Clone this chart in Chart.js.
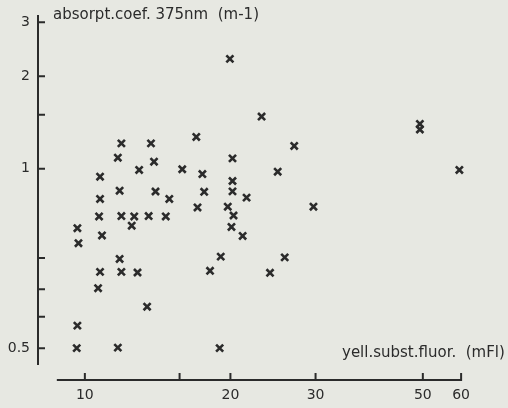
<!DOCTYPE html>
<html>
<head>
<meta charset="utf-8">
<script src="https://cdn.jsdelivr.net/npm/chart.js@4"></script>
<style>
    html, body { margin: 0; padding: 0; background: #e7e8e2; }
    #wrap { width: 508px; height: 408px; position: relative; }
</style>
</head>
<body>
<div id="wrap"><canvas id="scatterChart"></canvas></div>
<script>
// yellow substance fluorescence (mFl)
const fluor = [
    11.9, 13.7, 17.0, 11.7, 13.9, 20.2, 10.75, 12.95, 15.9, 17.5,
    20.2, 11.8, 14.0, 17.65, 20.2, 21.6, 10.75, 14.95, 17.1, 19.75,
    10.7, 11.9, 12.65, 13.55, 14.7, 20.3, 12.5, 20.1, 9.65, 10.85,
    21.2, 9.7, 11.8, 19.1, 10.75, 11.9, 12.85, 18.15, 10.65, 13.45,
    9.65, 9.62, 11.7, 19.0, 19.95, 23.2, 27.1, 25.05, 29.7, 25.9,
    24.15, 49.3, 49.3, 59.5
];
// absorption coefficient at 375 nm (m-1)
const absorp = [
    1.21, 1.21, 1.27, 1.087, 1.055, 1.082, 0.943, 0.992, 0.997, 0.962,
    0.913, 0.849, 0.844, 0.842, 0.845, 0.806, 0.798, 0.798, 0.749, 0.753,
    0.700, 0.702, 0.700, 0.702, 0.700, 0.705, 0.653, 0.647, 0.641, 0.607,
    0.605, 0.573, 0.509, 0.518, 0.462, 0.462, 0.460, 0.466, 0.409, 0.356,
    0.309, 0.261, 0.262, 0.261, 2.28, 1.48, 1.187, 0.979, 0.753, 0.515,
    0.459, 1.40, 1.343, 0.992
];

const xTicks = [10, 15.7, 20, 30, 50, 60];
const xTickLabels = ['10', '', '20', '30', '50', '60'];
const yTicks = [3, 2, 1.5, 1, 0.513, 0.406, 0.33, 0.261];
const yTickLabels = ['3', '2', '', '1', '', '', '', '0.5'];

const ink = '#2b2b2b';
const font = "'DejaVu Sans', sans-serif";

const points = fluor.map((x, i) => ({ x: x, y: absorp[i] }));

// axis lines and inward tick marks, drawn like the old plotter
const axesPlugin = {
    id: 'plotterAxes',
    afterDraw(chart) {
        const ctx = chart.ctx;
        const area = chart.chartArea;
        const xs = chart.scales.x;
        const ys = chart.scales.y;
        ctx.save();
        ctx.strokeStyle = ink;
        ctx.lineWidth = 2;
        ctx.lineCap = 'butt';

        // y axis
        ctx.beginPath();
        ctx.moveTo(area.left, area.top - 2);
        ctx.lineTo(area.left, area.bottom);
        yTicks.forEach(v => {
            const py = ys.getPixelForValue(v);
            ctx.moveTo(area.left, py);
            ctx.lineTo(area.left + 7, py);
        });
        ctx.stroke();

        // x axis, detached below the plot
        const ay = area.bottom + 15;
        ctx.beginPath();
        ctx.moveTo(xs.getPixelForValue(8.75), ay);
        ctx.lineTo(xs.getPixelForValue(60) + 1, ay);
        xTicks.forEach(v => {
            const px = xs.getPixelForValue(v);
            ctx.moveTo(px, ay);
            ctx.lineTo(px, ay - 7);
        });
        ctx.stroke();

        ctx.fillStyle = ink;
        ctx.font = '15px ' + font;
        ctx.textBaseline = 'middle';
        ctx.textAlign = 'left';
        ctx.fillText('absorpt.coef. 375nm  (m-1)', 53, 15);
        ctx.fillText('yell.subst.fluor.  (mFl)', 342, 353);
        ctx.restore();
    }
};

const ctx = document.getElementById('scatterChart').getContext('2d');

new Chart(ctx, {
    type: 'scatter',
    data: {
        datasets: [
            {
                label: 'samples',
                data: points,
                pointStyle: 'crossRot',
                pointRadius: 5,
                borderWidth: 2.6,
                borderColor: ink,
                backgroundColor: ink
            }
        ]
    },
    options: {
        responsive: true,
        maintainAspectRatio: false,
        animation: false,
        events: [],
        layout: {
            padding: { top: 17, right: 40, left: 0, bottom: 0 }
        },
        plugins: {
            legend: { display: false },
            tooltip: { enabled: false }
        },
        scales: {
            x: {
                type: 'logarithmic',
                min: 8,
                max: 62,
                grid: { display: false, drawTicks: false },
                border: { display: false },
                afterBuildTicks: scale => { scale.ticks = xTicks.map(v => ({ value: v })); },
                afterFit: scale => { scale.height = 43; },
                ticks: {
                    autoSkip: false,
                    maxRotation: 0,
                    padding: 22,
                    color: ink,
                    font: { family: font, size: 14 },
                    callback: (value, index) => xTickLabels[index]
                }
            },
            y: {
                type: 'logarithmic',
                min: 0.23,
                max: 3.12,
                grid: { display: false, drawTicks: false },
                border: { display: false },
                afterBuildTicks: scale => { scale.ticks = yTicks.map(v => ({ value: v })); },
                afterFit: scale => { scale.width = 38; },
                ticks: {
                    autoSkip: false,
                    padding: 8,
                    color: ink,
                    font: { family: font, size: 14 },
                    callback: (value, index) => yTickLabels[index]
                }
            }
        }
    },
    plugins: [axesPlugin]
});
</script>
</body>
</html>
